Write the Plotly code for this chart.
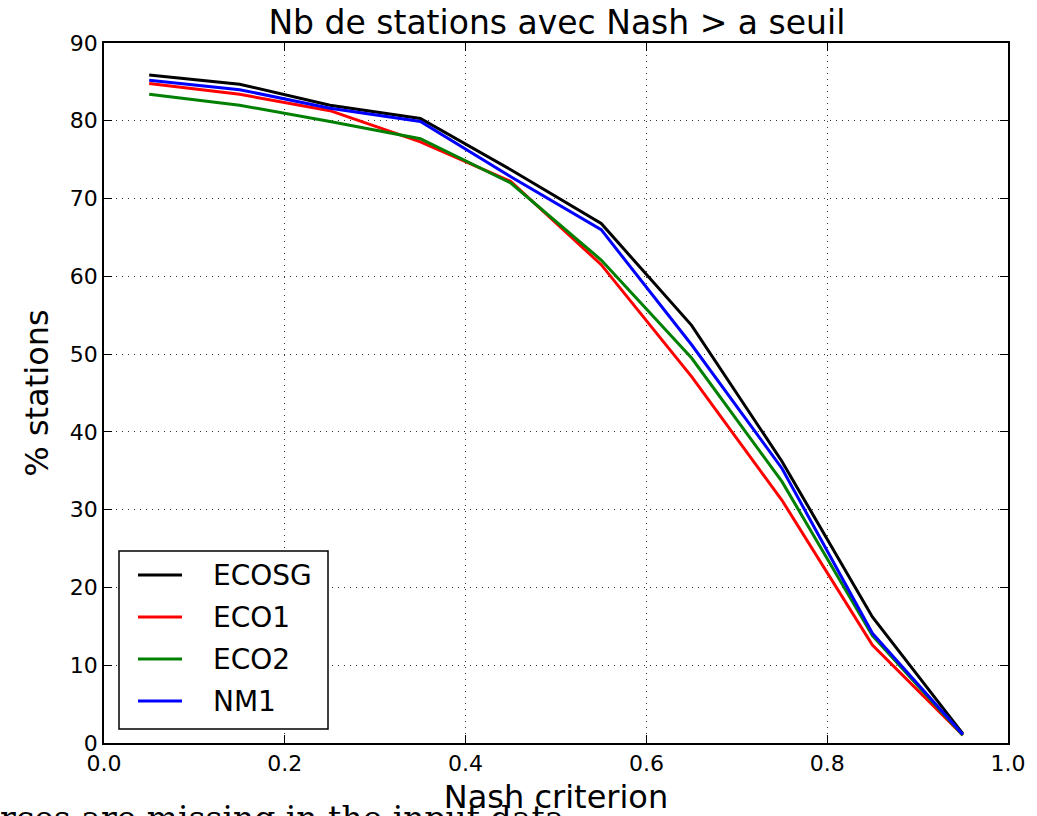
import plotly.graph_objects as go

# Nash criterion thresholds
nash = [0.05, 0.15, 0.25, 0.35, 0.45, 0.55, 0.65, 0.75, 0.85, 0.95]

# % of stations with Nash above each threshold
ecosg = [85.9, 84.7, 82.0, 80.3, 73.7, 66.8, 53.7, 36.2, 16.2, 1.2]
eco1 = [84.8, 83.4, 81.3, 77.3, 72.2, 61.5, 47.1, 31.2, 12.6, 1.0]
eco2 = [83.4, 82.0, 79.9, 77.7, 72.0, 62.1, 49.5, 33.6, 13.8, 1.0]
nm1 = [85.2, 84.0, 81.6, 79.9, 72.8, 66.0, 51.2, 35.3, 14.1, 1.1]

x_ticks = [0.0, 0.2, 0.4, 0.6, 0.8, 1.0]
y_ticks = [0, 10, 20, 30, 40, 50, 60, 70, 80, 90]

series = [
    ("ECOSG", ecosg, "#000000"),
    ("ECO1", eco1, "#ff0000"),
    ("ECO2", eco2, "#008000"),
    ("NM1", nm1, "#0000ff"),
]

SANS = "DejaVu Sans, Bitstream Vera Sans, sans-serif"

W, H = 1037, 816
ML, MR, MT, MB = 104, 29, 43, 73
PW, PH = W - ML - MR, H - MT - MB


def px_x(p):
    """page pixel x -> paper x"""
    return (p - ML) / PW


def px_y(p):
    """page pixel y -> paper y"""
    return (H - MB - p) / PH


fig = go.Figure()
for name, vals, col in series:
    fig.add_trace(go.Scatter(
        x=nash, y=vals, name=name, mode="lines",
        line=dict(color=col, width=3), showlegend=False,
    ))

axis_common = dict(
    showline=True, linecolor="black", linewidth=1.5, mirror="allticks",
    ticks="inside", ticklen=8, tickwidth=1, tickcolor="black",
    showgrid=True, gridcolor="#333333", gridwidth=1, griddash="1px,5px",
    zeroline=False, automargin=False,
    tickfont=dict(family=SANS, size=22, color="black"),
)

fig.update_layout(
    width=W, height=H,
    margin=dict(l=ML, r=MR, t=MT, b=MB, autoexpand=False),
    paper_bgcolor="white", plot_bgcolor="white",
    title=dict(
        text="Nb de stations avec Nash > a seuil",
        font=dict(family=SANS, size=33, color="black"),
        x=0.537, xanchor="center", y=0.987, yanchor="top",
    ),
    xaxis=dict(
        range=[0, 1], tickvals=x_ticks,
        ticktext=[f"{v:.1f}" for v in x_ticks],
        title=dict(text="Nash criterion", standoff=10,
                   font=dict(family=SANS, size=32, color="black")),
        **axis_common,
    ),
    yaxis=dict(
        range=[0, 90], tickvals=y_ticks,
        title=dict(text="% stations", standoff=12,
                   font=dict(family=SANS, size=32, color="black")),
        **axis_common,
    ),
    showlegend=False,
)

# legend box in the lower-left corner of the axes
box_l, box_r, box_t, box_b = 119, 328, 551, 729
fig.add_shape(
    type="rect", xref="paper", yref="paper",
    x0=px_x(box_l), x1=px_x(box_r), y0=px_y(box_b), y1=px_y(box_t),
    line=dict(color="black", width=1.5), fillcolor="white", layer="above",
)
row0, row_step = 575, 42
for i, (name, _, col) in enumerate(series):
    ry = px_y(row0 + i * row_step)
    fig.add_shape(
        type="line", xref="paper", yref="paper",
        x0=px_x(138), x1=px_x(182), y0=ry, y1=ry,
        line=dict(color=col, width=3), layer="above",
    )
    fig.add_annotation(
        text=name, xref="paper", yref="paper",
        x=px_x(211), y=ry, xanchor="left", yanchor="middle",
        showarrow=False,
        font=dict(family=SANS, size=28, color="black"),
    )

# serif caption line running along the bottom edge
fig.add_annotation(
    text="rces are missing in the input data",
    xref="paper", yref="paper",
    x=px_x(-2), y=px_y(840),
    xanchor="left", yanchor="bottom",
    showarrow=False,
    font=dict(family="DejaVu Serif, serif", size=33, color="black"),
)

fig.write_html("out.html")
